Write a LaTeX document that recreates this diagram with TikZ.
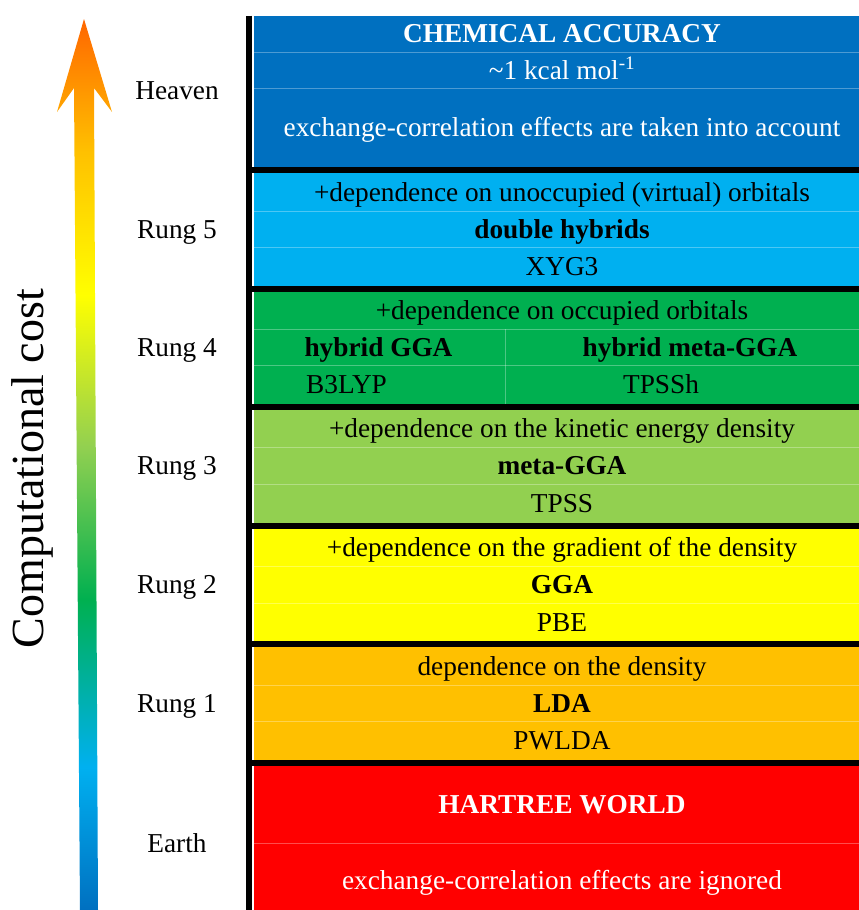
\documentclass[tikz,border=0pt]{standalone}
\usepackage{fontspec}
\setmainfont{Liberation Serif}
\definecolor{cHeaven}{HTML}{0070C0}
\definecolor{cRfive}{HTML}{00B0F0}
\definecolor{cRfour}{HTML}{00B050}
\definecolor{cRthree}{HTML}{92D050}
\definecolor{cRtwo}{HTML}{FFFF00}
\definecolor{cRone}{HTML}{FFC000}
\definecolor{cEarth}{HTML}{FF0000}
\definecolor{sBot}{HTML}{0070C0}
\definecolor{sTop}{HTML}{FF6600}
\pgfdeclareverticalshading{costshade}{100bp}{color(0bp)=(sBot); color(25bp)=(sBot); color(33bp)=(cRfive); color(42.4bp)=(cRfour); color(51bp)=(cRthree); color(59.5bp)=(cRtwo); color(67.6bp)=(cRone); color(75bp)=(sTop); color(100bp)=(sTop)}
\tikzset{
  txt/.style={anchor=base, inner sep=0pt, font=\fontsize{27.3}{32}\selectfont},
  btxt/.style={txt, font=\fontsize{27.3}{32}\selectfont\bfseries},
  wtxt/.style={txt, text=white},
  wbtxt/.style={btxt, text=white},
  lbl/.style={txt},
  subline/.style={draw=white, draw opacity=0.3, line width=0.8pt},
  sepline/.style={draw=black, line width=6pt},
}
\begin{document}
\begin{tikzpicture}[x=1pt,y=-1pt]
\useasboundingbox (0,0) rectangle (859,910);
\clip (0,0) rectangle (859,910);
% bands
\fill[cHeaven] (253.5,15.5) rectangle (872,170);
\fill[cRfive] (253.5,170) rectangle (872,288.6);
\fill[cRfour] (253.5,288.6) rectangle (872,407.2);
\fill[cRthree] (253.5,407.2) rectangle (872,525.8);
\fill[cRtwo] (253.5,525.8) rectangle (872,644.4);
\fill[cRone] (253.5,644.4) rectangle (872,763);
\fill[cEarth] (253.5,763) rectangle (872,910);
% sub-row lines
\foreach \yy in {52,88,211,247,329,365,447,484,566,603,685,721,843}
  \draw[subline] (253.5,\yy) -- (872,\yy);
\draw[subline] (505,329) -- (505,404);
% separators
\foreach \yy in {170,288.6,407.2,525.8,644.4,763}
  \draw[sepline] (246,\yy) -- (872,\yy);
\draw[sepline] (249,15.5) -- (249,910);
% arrow
\shade[shading=costshade] (84,19) -- (112,112) -- (94,88) -- (98,910) -- (80,910) -- (74,88) -- (57,112) -- cycle;
\node[anchor=base, inner sep=0pt, rotate=90, font=\fontsize{46}{54}\selectfont] (cost) at (43,468.5) {Computational cost};
% left labels
\node[lbl] (lheaven) at (177,99) {Heaven};
\node[lbl] (lr5) at (177,238) {Rung 5};
\node[lbl] (lr4) at (177,356) {Rung 4};
\node[lbl] (lr3) at (177,474.5) {Rung 3};
\node[lbl] (lr2) at (177,593.5) {Rung 2};
\node[lbl] (lr1) at (177,712) {Rung 1};
\node[lbl] (learth) at (177,852) {Earth};
% heaven
\node[wbtxt] (h1) at (562,42.5) {CHEMICAL ACCURACY};
\node[wtxt] (h2) at (562,79) {\textasciitilde 1 kcal mol\textsuperscript{-1}};
\node[wtxt] (h3) at (562,136.5) {exchange-correlation effects are taken into account};
% rung 5
\node[txt] (r5a) at (562,201) {+dependence on unoccupied (virtual) orbitals};
\node[btxt] (r5b) at (562,238) {double hybrids};
\node[txt] (r5c) at (562,275) {XYG3};
% rung 4
\node[txt] (r4a) at (562,319) {+dependence on occupied orbitals};
\node[btxt] (r4b) at (378.5,356) {hybrid GGA};
\node[btxt] (r4c) at (690,356) {hybrid meta-GGA};
\node[txt, anchor=base west] (r4d) at (306,393) {B3LYP};
\node[txt] (r4e) at (661,393) {TPSSh};
% rung 3
\node[txt] (r3a) at (562,437) {+dependence on the kinetic energy density};
\node[btxt] (r3b) at (562,474.5) {meta-GGA};
\node[txt] (r3c) at (562,512) {TPSS};
% rung 2
\node[txt] (r2a) at (562,556) {+dependence on the gradient of the density};
\node[btxt] (r2b) at (562,593.5) {GGA};
\node[txt] (r2c) at (562,631) {PBE};
% rung 1
\node[txt] (r1a) at (562,675.5) {dependence on the density};
\node[btxt] (r1b) at (562,712) {LDA};
\node[txt] (r1c) at (562,749.5) {PWLDA};
% earth
\node[wbtxt] (e1) at (562,813.5) {HARTREE WORLD};
\node[wtxt] (e2) at (562,889) {exchange-correlation effects are ignored};
\end{tikzpicture}
\end{document}
